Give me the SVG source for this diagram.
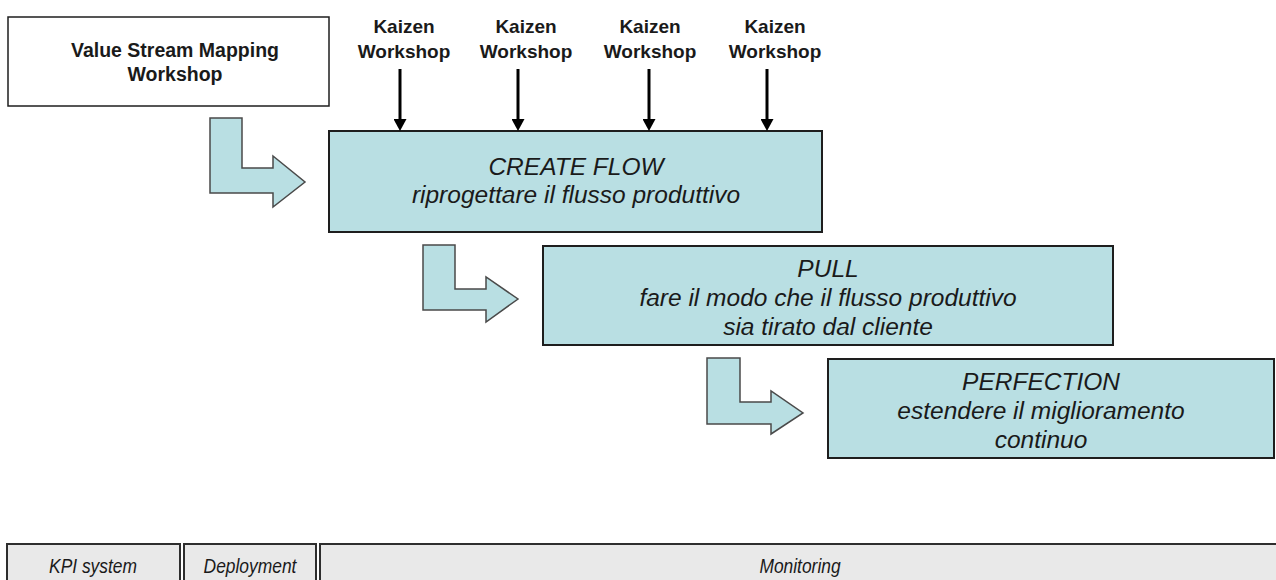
<svg xmlns="http://www.w3.org/2000/svg" width="1276" height="580" viewBox="0 0 1276 580">
  <style>
    .bold { font-family: "Liberation Sans", Arial, sans-serif; font-weight: bold; font-size: 19px; fill: #1a1a1a; text-anchor: middle; }
    .phase { fill: #b9dfe3; stroke: #1e1e1e; stroke-width: 2; }
    .phase-text { font-family: "Liberation Sans", Arial, sans-serif; font-style: italic; font-size: 24.5px; fill: #1a1a1a; text-anchor: middle; }
    .step { fill: #b9dfe3; stroke: #4a4a4a; stroke-width: 1.5; stroke-linejoin: miter; }
    .bar { fill: #e9e9e9; stroke: #2e2e2e; stroke-width: 2; }
    .bar-text { font-family: "Liberation Sans", Arial, sans-serif; font-style: italic; font-size: 20px; fill: #1a1a1a; text-anchor: middle; }
    .kaizen-line { stroke: #000; stroke-width: 3; fill: none; }
  </style>
  <defs>
    <marker id="head" markerUnits="userSpaceOnUse" markerWidth="13" markerHeight="13" refX="6" refY="6.5" orient="auto">
      <path d="M0,0 L12,6.5 L0,13 Z" fill="#000"/>
    </marker>
  </defs>

  <rect width="1276" height="580" fill="#ffffff"/>

  <!-- Value stream mapping workshop -->
  <g id="vsm">
    <rect x="8" y="17" width="321" height="89" fill="#ffffff" stroke="#1e1e1e" stroke-width="1.5"/>
    <text class="bold" x="175" y="57" style="font-size:19.5px">Value Stream Mapping</text>
    <text class="bold" x="175" y="81" style="font-size:19.5px">Workshop</text>
  </g>

  <!-- Kaizen workshops -->
  <g id="kaizen-1">
    <text class="bold" x="404" y="33">Kaizen</text>
    <text class="bold" x="404" y="58">Workshop</text>
  </g>
  <g id="kaizen-2">
    <text class="bold" x="526" y="33">Kaizen</text>
    <text class="bold" x="526" y="58">Workshop</text>
  </g>
  <g id="kaizen-3">
    <text class="bold" x="650" y="33">Kaizen</text>
    <text class="bold" x="650" y="58">Workshop</text>
  </g>
  <g id="kaizen-4">
    <text class="bold" x="775" y="33">Kaizen</text>
    <text class="bold" x="775" y="58">Workshop</text>
  </g>

  <!-- Phase boxes -->
  <g id="create-flow">
    <rect class="phase" x="329" y="131" width="493" height="101"/>
    <text class="phase-text" x="576" y="175">CREATE FLOW</text>
    <text class="phase-text" x="576" y="203">riprogettare il flusso produttivo</text>
  </g>
  <g id="pull">
    <rect class="phase" x="543" y="246" width="570" height="99"/>
    <text class="phase-text" x="828" y="277">PULL</text>
    <text class="phase-text" x="828" y="306">fare il modo che il flusso produttivo</text>
    <text class="phase-text" x="828" y="335">sia tirato dal cliente</text>
  </g>
  <g id="perfection">
    <rect class="phase" x="828" y="359" width="446" height="99"/>
    <text class="phase-text" x="1041" y="390">PERFECTION</text>
    <text class="phase-text" x="1041" y="419">estendere il miglioramento</text>
    <text class="phase-text" x="1041" y="448">continuo</text>
  </g>

  <!-- Bottom bar: condensed italic labels -->
  <g id="kpi-system">
    <rect class="bar" x="7" y="544" width="173" height="50"/>
    <text class="bar-text" transform="translate(93,573) scale(0.87,1)">KPI system</text>
  </g>
  <g id="deployment">
    <rect class="bar" x="184" y="544" width="132" height="50"/>
    <text class="bar-text" transform="translate(250,573) scale(0.87,1)">Deployment</text>
  </g>
  <g id="monitoring">
    <rect class="bar" x="320" y="544" width="970" height="50"/>
    <text class="bar-text" transform="translate(800,573) scale(0.87,1)">Monitoring</text>
  </g>

  <!-- Connectors -->
  <g id="connectors">
    <line class="kaizen-line" x1="400" y1="69" x2="400" y2="125" marker-end="url(#head)"/>
    <line class="kaizen-line" x1="518" y1="69" x2="518" y2="125" marker-end="url(#head)"/>
    <line class="kaizen-line" x1="649" y1="69" x2="649" y2="125" marker-end="url(#head)"/>
    <line class="kaizen-line" x1="767" y1="69" x2="767" y2="125" marker-end="url(#head)"/>

    <path class="step" d="M210,118 H242 V168 H273 V156 L305,182 L273,207 V193 H210 Z"/>
    <path class="step" d="M423,245 H455 V289 H486 V277 L518,299 L486,322 V310 H423 Z"/>
    <path class="step" d="M707,358 H740 V402 H771 V391 L803,413 L771,434 V424 H707 Z"/>
  </g>
</svg>
